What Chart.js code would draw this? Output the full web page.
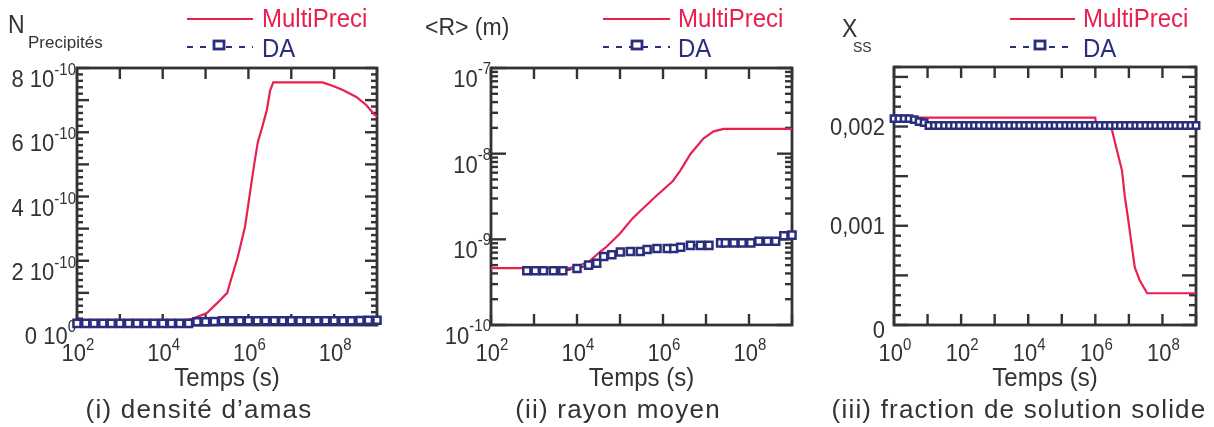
<!DOCTYPE html>
<html>
<head>
<meta charset="utf-8">
<script src="https://cdn.jsdelivr.net/npm/chart.js@4.4.1/dist/chart.umd.min.js"></script>
<style>
  html, body { margin: 0; padding: 0; background: #fff; }
  #wrap { position: relative; width: 1214px; height: 427px; overflow: hidden; }
  #wrap canvas { position: absolute; left: 0; top: 0; }
</style>
</head>
<body>
<div id="wrap">
  <canvas id="c1" width="1214" height="427"></canvas>
  <canvas id="c2" width="1214" height="427"></canvas>
  <canvas id="c3" width="1214" height="427"></canvas>
</div>
<script>
const SERIES = ['MultiPreci', 'DA'];

// (i) densité d'amas
const P1_RED_T = [1e2, 1.6e4, 5.1e4, 1.07e5, 1.86e5, 3.2e5, 3.7e5, 5.6e5, 8.3e5, 9.8e5, 1.2e6, 1.4e6, 1.66e6, 2.04e6, 2.7e6, 3.2e6, 3.8e6, 5.4e7, 9.1e7, 1.55e8, 3.3e8, 5.6e8, 8.7e8, 1e9];
const P1_RED_N = [5e-12, 5e-12, 2e-11, 3.7e-11, 6.8e-11, 1.0e-10, 1.3e-10, 2.1e-10, 3.05e-10, 3.7e-10, 4.5e-10, 5.1e-10, 5.7e-10, 6.1e-10, 6.7e-10, 7.3e-10, 7.55e-10, 7.55e-10, 7.45e-10, 7.32e-10, 7.1e-10, 6.85e-10, 6.55e-10, 6.5e-10];
const P1_DA_T = [1e2, 1.6e2, 2.5e2, 4e2, 6.3e2, 1e3, 1.6e3, 2.5e3, 4e3, 6.3e3, 1e4, 1.6e4, 2.5e4, 4e4, 6.3e4, 1e5, 1.6e5, 2.5e5, 4e5, 6.3e5, 1e6, 1.6e6, 2.5e6, 4e6, 6.3e6, 1e7, 1.6e7, 2.5e7, 4e7, 6.3e7, 1e8, 1.6e8, 2.5e8, 4e8, 6.3e8, 1e9];
const P1_DA_N = [5e-12, 5e-12, 5e-12, 5e-12, 5e-12, 5e-12, 5e-12, 5e-12, 5e-12, 5e-12, 5e-12, 5e-12, 5e-12, 5e-12, 1e-11, 1e-11, 1.1e-11, 1.3e-11, 1.3e-11, 1.3e-11, 1.3e-11, 1.3e-11, 1.3e-11, 1.3e-11, 1.3e-11, 1.3e-11, 1.3e-11, 1.3e-11, 1.3e-11, 1.3e-11, 1.3e-11, 1.3e-11, 1.3e-11, 1.4e-11, 1.5e-11, 1.5e-11];
const P1_Y_VALS = [0, 2e-10, 4e-10, 6e-10, 8e-10];
const P1_Y_BASE = ['0 10', '2 10', '4 10', '6 10', '8 10'];
const P1_Y_SUP = ['0', '-10', '-10', '-10', '-10'];

// (ii) rayon moyen
const P2_RED_T = [1e2, 6e3, 1e4, 2e4, 3.5e4, 5e4, 1e5, 2e5, 6e5, 1.7e6, 2.5e6, 4.4e6, 8.7e6, 1.5e7, 2.6e7, 1e9];
const P2_RED_R = [4.6e-10, 4.6e-10, 4.8e-10, 5.6e-10, 7.2e-10, 8.3e-10, 1.17e-9, 1.78e-9, 3.0e-9, 4.8e-9, 6.3e-9, 1.0e-8, 1.5e-8, 1.82e-8, 1.95e-8, 1.95e-8];
const P2_DA_T = [680, 1070, 1660, 2820, 4680, 1.0e4, 1.86e4, 2.88e4, 4.17e4, 6.46e4, 1.02e5, 1.74e5, 2.95e5, 4.27e5, 7.24e5, 1.26e6, 1.78e6, 2.57e6, 4.37e6, 7.41e6, 1.17e7, 2.19e7, 2.82e7, 4.47e7, 6.92e7, 1.1e8, 1.7e8, 2.69e8, 4.17e8, 6.46e8, 1e9];
const P2_DA_R = [4.3e-10, 4.3e-10, 4.3e-10, 4.3e-10, 4.3e-10, 4.57e-10, 5.0e-10, 5.25e-10, 6.3e-10, 6.6e-10, 7.1e-10, 7.2e-10, 7.2e-10, 7.6e-10, 7.8e-10, 7.8e-10, 7.8e-10, 8.1e-10, 8.5e-10, 8.5e-10, 8.5e-10, 9.1e-10, 9.1e-10, 9.1e-10, 9.1e-10, 9.1e-10, 9.5e-10, 9.5e-10, 9.5e-10, 1.1e-9, 1.12e-9];
const P2_Y_VALS = [1e-10, 1e-9, 1e-8, 1e-7];
const P2_Y_SUP = ['-10', '-9', '-8', '-7'];

// (iii) fraction de solution solide
const P3_RED_T = [1, 1e6, 1.05e6, 3.1e6, 4.4e6, 6.2e6, 7.6e6, 9.3e6, 1.23e7, 1.5e7, 2.1e7, 3.5e7, 1e9];
const P3_RED_X = [0.00209, 0.00209, 0.00201, 0.00197, 0.00176, 0.00156, 0.00129, 0.00109, 0.00079, 0.00058, 0.00045, 0.00032, 0.00032];
const P3_DA_T = [1, 1.4, 2, 2.8, 4, 5.6, 7.9, 11, 16, 22, 32, 45, 63, 89, 130, 180, 250, 350, 500, 710,
  1e3, 1.4e3, 2e3, 2.8e3, 4e3, 5.6e3, 7.9e3, 1.1e4, 1.6e4, 2.2e4, 3.2e4, 4.5e4, 6.3e4, 8.9e4, 1.3e5, 1.8e5, 2.5e5, 3.5e5, 5e5, 7.1e5,
  1e6, 1.4e6, 2e6, 2.8e6, 4e6, 5.6e6, 7.9e6, 1.1e7, 1.6e7, 2.2e7, 3.2e7, 4.5e7, 6.3e7, 8.9e7, 1.3e8, 1.8e8, 2.5e8, 3.5e8, 5e8, 7.1e8, 1e9];
const P3_DA_X = [0.00208, 0.00208, 0.00208, 0.00208, 0.00207, 0.00205, 0.00204, 0.00201, 0.00201, 0.00201, 0.00201, 0.00201, 0.00201, 0.00201, 0.00201, 0.00201, 0.00201, 0.00201, 0.00201, 0.00201,
  0.00201, 0.00201, 0.00201, 0.00201, 0.00201, 0.00201, 0.00201, 0.00201, 0.00201, 0.00201, 0.00201, 0.00201, 0.00201, 0.00201, 0.00201, 0.00201, 0.00201, 0.00201, 0.00201, 0.00201,
  0.00201, 0.00201, 0.00201, 0.00201, 0.00201, 0.00201, 0.00201, 0.00201, 0.00201, 0.00201, 0.00201, 0.00201, 0.00201, 0.00201, 0.00201, 0.00201, 0.00201, 0.00201, 0.00201, 0.00201, 0.00201];
const P3_Y_VALS = [0, 0.001, 0.002];
const P3_Y_TEXT = ['0', '0,001', '0,002'];

const P12_X_VALS = [1e2, 1e4, 1e6, 1e8];
const P12_X_SUP = ['2', '4', '6', '8'];
const P3_X_VALS = [1, 1e2, 1e4, 1e6, 1e8];
const P3_X_SUP = ['0', '2', '4', '6', '8'];

const INK = '#333333';
const RED = '#e9204f';
const NAVY = '#2b2e7f';
const FONT = '"Liberation Sans", Arial, Helvetica, sans-serif';

// text, optionally stretched vertically (the source glyphs are a bit tall)
function txt(ctx, s, x, y, size, color, align, spacing, vs) {
  ctx.save();
  ctx.font = size + 'px ' + FONT;
  ctx.fillStyle = color;
  ctx.textAlign = align || 'left';
  ctx.textBaseline = 'alphabetic';
  ctx.letterSpacing = (spacing || 0) + 'px';
  ctx.translate(x, y);
  ctx.scale(1, vs || 1);
  ctx.fillText(s, 0, 0);
  ctx.restore();
}

function powLabel(ctx, base, sup, x, yBase, ySup, align) {
  ctx.font = '22px ' + FONT;
  const wb = ctx.measureText(base).width;
  ctx.font = '15px ' + FONT;
  const ws = ctx.measureText(sup).width;
  const total = wb + ws;
  const x0 = align === 'right' ? x - total : x - total / 2;
  txt(ctx, base, x0, yBase, 22, INK, 'left', 0, 1.1);
  txt(ctx, sup, x0 + wb, ySup, 15, INK, 'left', 0, 1.05);
}

function linTicks(max, step, bigEvery, small, big) {
  const out = [];
  const n = Math.round(max / step);
  for (let i = 0; i <= n; i++) out.push({ v: i * step, len: i % bigEvery === 0 ? big : small });
  return out;
}
function logTicks(d0, d1, small, big) {
  const out = [];
  for (let d = d0; d < d1; d++) {
    out.push({ v: Math.pow(10, d), len: big });
    for (let m = 2; m <= 9; m++) out.push({ v: m * Math.pow(10, d), len: small });
  }
  out.push({ v: Math.pow(10, d1), len: big });
  return out;
}
function decadeTicks(d0, d1, len) {
  const out = [];
  for (let d = d0; d <= d1; d++) out.push({ v: Math.pow(10, d), len });
  return out;
}

const PANELS = {
  c1: {
    xTicks: decadeTicks(2, 9, 11),
    yTicks: linTicks(8e-10, 2e-11, 5, 6, 12),
    xLab: { vals: P12_X_VALS, sup: P12_X_SUP },
    yLab: { vals: P1_Y_VALS, base: P1_Y_BASE, sup: P1_Y_SUP, right: 76, dyBase: 19, dySup: 7 },
    legend: { x1: 187, x2: 253, mx: 219, tx: 262 },
    title(ctx) {
      txt(ctx, 'N', 8, 33, 23, INK, 'left', 0, 1.1);
      txt(ctx, 'Precipités', 28, 48, 17, INK);
    },
    caption: '(i) densité d’amas', capX: 199
  },
  c2: {
    xTicks: decadeTicks(2, 9, 11),
    yTicks: logTicks(-10, -7, 7, 15),
    xLab: { vals: P12_X_VALS, sup: P12_X_SUP },
    yLab: { vals: P2_Y_VALS, base: P2_Y_VALS.map(() => '10'), sup: P2_Y_SUP, right: 491, dyBase: 19, dySup: 6 },
    legend: { x1: 603, x2: 670, mx: 637, tx: 678 },
    title(ctx) {
      txt(ctx, '<R> (m)', 425, 35, 23, INK);
    },
    caption: '(ii) rayon moyen', capX: 618
  },
  c3: {
    xTicks: decadeTicks(0, 9, 11),
    yTicks: linTicks(0.0026, 0.0001, 5, 7, 14),
    xLab: { vals: P3_X_VALS, sup: P3_X_SUP },
    yLab: { vals: P3_Y_VALS, text: P3_Y_TEXT, right: 885, dy: 8 },
    legend: { x1: 1010, x2: 1075, mx: 1040, tx: 1083 },
    title(ctx) {
      txt(ctx, 'X', 842, 37, 23, INK, 'left', 0, 1.1);
      txt(ctx, 'SS', 853, 52, 14, INK);
    },
    caption: '(iii) fraction de solution solide', capX: 1019
  }
};

const panelAxes = {
  id: 'panelAxes',
  beforeDatasetsDraw(chart) {
    const p = PANELS[chart.canvas.id];
    const { ctx, chartArea: a } = chart;
    const sx = chart.scales.x, sy = chart.scales.y;
    const seg = (x1, y1, x2, y2) => { ctx.beginPath(); ctx.moveTo(x1, y1); ctx.lineTo(x2, y2); ctx.stroke(); };
    ctx.save();
    ctx.strokeStyle = INK;
    ctx.lineWidth = 2.4;
    p.xTicks.forEach(t => {
      const px = sx.getPixelForValue(t.v);
      seg(px, a.bottom, px, a.bottom - t.len);
      seg(px, a.top, px, a.top + t.len);
    });
    p.yTicks.forEach(t => {
      const py = sy.getPixelForValue(t.v);
      seg(a.left, py, a.left + t.len, py);
      seg(a.right, py, a.right - t.len, py);
    });
    ctx.lineWidth = 2.8;
    ctx.strokeRect(a.left, a.top, a.right - a.left, a.bottom - a.top);

    // tick labels
    const yl = p.yLab;
    yl.vals.forEach((v, i) => {
      const py = sy.getPixelForValue(v);
      if (yl.sup) powLabel(ctx, yl.base[i], yl.sup[i], yl.right, py + yl.dyBase, py + yl.dySup, 'right');
      else txt(ctx, yl.text[i], yl.right, py + yl.dy + (v === 0 ? 5 : 0), 22, INK, 'right', 0, 1.1);
    });
    p.xLab.vals.forEach((v, i) => {
      powLabel(ctx, '10', p.xLab.sup[i], sx.getPixelForValue(v) + 1, 361, 350, 'center');
    });

    // titles
    const cx = (a.left + a.right) / 2;
    txt(ctx, 'Temps (s)', cx, 386, 24, INK, 'center', 0, 1.05);
    txt(ctx, p.caption, p.capX, 418, 26, INK, 'center', 1.2);
    p.title(ctx);
    ctx.restore();
  },
  afterDraw(chart) {
    const p = PANELS[chart.canvas.id];
    const L = p.legend;
    const ctx = chart.ctx;
    const ds = chart.data.datasets;
    const red = ds.find(d => d.label === SERIES[0]);
    const da = ds.find(d => d.label === SERIES[1]);
    ctx.save();
    ctx.lineWidth = 2.2;
    ctx.strokeStyle = red.borderColor;
    ctx.beginPath(); ctx.moveTo(L.x1, 19); ctx.lineTo(L.x2, 19); ctx.stroke();
    txt(ctx, red.label, L.tx, 27, 24, red.borderColor, 'left', 0, 1.05);
    ctx.strokeStyle = da.borderColor;
    ctx.setLineDash([6, 7]);
    ctx.beginPath(); ctx.moveTo(L.x1, 47); ctx.lineTo(L.x2, 47); ctx.stroke();
    ctx.setLineDash([]);
    ctx.fillStyle = '#fff';
    ctx.fillRect(L.mx - 6, 40, 12, 10);
    ctx.lineWidth = 2.8;
    ctx.strokeRect(L.mx - 5, 41, 10, 8);
    txt(ctx, da.label, L.tx, 57, 24, da.borderColor, 'left', 0, 1.05);
    ctx.restore();
  }
};

function pts(xs, ys) { return xs.map((x, i) => ({ x, y: ys[i] })); }

function makeChart(id, pad, xOpts, yOpts, redData, daData, markR) {
  return new Chart(document.getElementById(id), {
    type: 'line',
    data: {
      datasets: [
        {
          label: SERIES[1], data: daData, borderColor: NAVY, borderWidth: 2,
          borderDash: [6, 7], pointStyle: 'rect', pointRadius: markR, pointBorderWidth: 2.5,
          pointBorderColor: NAVY, pointBackgroundColor: '#fff', clip: false
        },
        {
          label: SERIES[0], data: redData, borderColor: RED, borderWidth: 2.2,
          pointRadius: 0, clip: false
        }
      ]
    },
    options: {
      responsive: false, animation: false, devicePixelRatio: 1,
      layout: { padding: pad },
      scales: {
        x: Object.assign({ type: 'logarithmic', display: false }, xOpts),
        y: Object.assign({ display: false }, yOpts)
      },
      elements: { line: { tension: 0 } },
      plugins: { legend: { display: false }, tooltip: { enabled: false } }
    },
    plugins: [panelAxes]
  });
}

makeChart('c1', { left: 77, right: 1214 - 377, top: 68, bottom: 102 },
  { min: 1e2, max: 1e9 }, { type: 'linear', min: 0, max: 8e-10 },
  pts(P1_RED_T, P1_RED_N), pts(P1_DA_T, P1_DA_N), 5);

makeChart('c2', { left: 491, right: 1214 - 792, top: 68, bottom: 102 },
  { min: 1e2, max: 1e9 }, { type: 'logarithmic', min: 1e-10, max: 1e-7 },
  pts(P2_RED_T, P2_RED_R), pts(P2_DA_T, P2_DA_R), 5);

makeChart('c3', { left: 894, right: 1214 - 1196, top: 67, bottom: 102 },
  { min: 1, max: 1e9 }, { type: 'linear', min: 0, max: 0.0026 },
  pts(P3_RED_T, P3_RED_X), pts(P3_DA_T, P3_DA_X), 4.5);
</script>
</body>
</html>
